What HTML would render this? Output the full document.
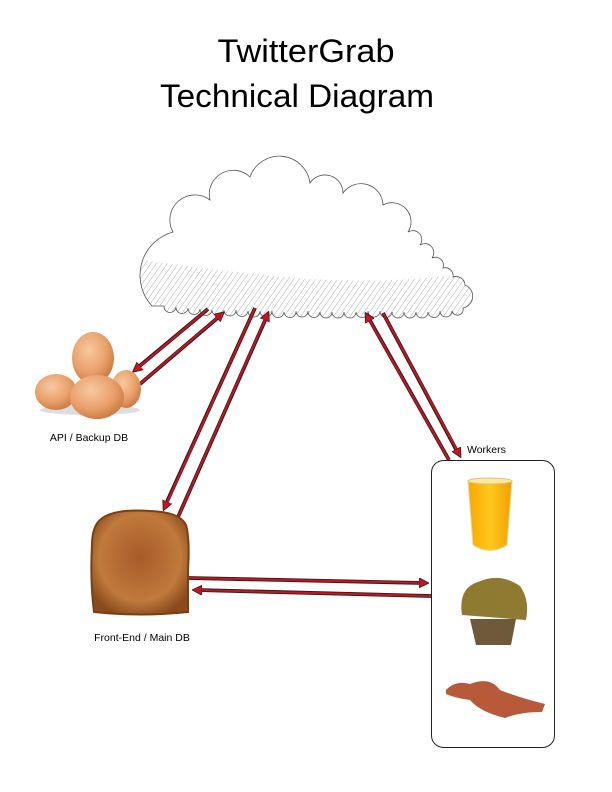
<!DOCTYPE html>
<html><head><meta charset="utf-8"><style>
html,body{margin:0;padding:0;background:#fff;}
svg{display:block;font-family:"Liberation Sans",sans-serif;}
</style></head><body>
<svg width="612" height="792" viewBox="0 0 612 792" xmlns="http://www.w3.org/2000/svg">
<defs>
<pattern id="hatch" width="4.5" height="4.5" patternUnits="userSpaceOnUse" patternTransform="rotate(35)">
<line x1="0" y1="0" x2="0" y2="4.5" stroke="#9a9a9a" stroke-width="0.8"/>
</pattern>
<clipPath id="cc"><path id="cp" d="M152,306 A45,45 0 0 1 173,232 A25,25 0 0 1 210,200 A24,24 0 0 1 250,177 A31,31 0 0 1 310,183 A18,18 0 0 1 343,193 A22,22 0 0 1 383,205 A19,19 0 0 1 408,232 A9,9 0 0 1 420,245 A9,9 0 0 1 432,258 A8,8 0 0 1 443,268 A8,8 0 0 1 453,277 A9,9 0 0 1 465,285 A12,12 0 0 1 463,308 A5,5 0 0 1 452,311 A5,5 0 0 1 440,311 A5,5 0 0 1 428,312 A5,5 0 0 1 416,312 A5,5 0 0 1 404,312 A5,5 0 0 1 392,312 A5,5 0 0 1 380,311 A5,5 0 0 1 368,311 A5,5 0 0 1 356,312 A5,5 0 0 1 344,312 A5,5 0 0 1 332,312 A5,5 0 0 1 320,312 A5,5 0 0 1 308,311 A5,5 0 0 1 296,311 A5,5 0 0 1 284,312 A5,5 0 0 1 272,311 A5,5 0 0 1 260,311 A5,5 0 0 1 248,311 A5,5 0 0 1 236,310 A5,5 0 0 1 224,310 A5,5 0 0 1 212,310 A5,5 0 0 1 200,309 A5,5 0 0 1 188,308 A5,5 0 0 1 176,307 A5,5 0 0 1 164,306 Z"/></clipPath>
<marker id="ah" viewBox="0 0 10 10" refX="8" refY="5" markerWidth="5" markerHeight="5" orient="auto" markerUnits="strokeWidth">
<path d="M0,0 L10,5 L0,10 Z" fill="#d0101e" stroke="#222" stroke-width="0.8"/>
</marker>
<radialGradient id="egg" cx="0.4" cy="0.35" r="0.7"><stop offset="0" stop-color="#f7c9a0"/><stop offset="0.6" stop-color="#e9a06a"/><stop offset="1" stop-color="#c9763f"/></radialGradient>
<radialGradient id="toast" cx="0.5" cy="0.45" r="0.6"><stop offset="0" stop-color="#a85a28"/><stop offset="0.7" stop-color="#c07a3c"/><stop offset="1" stop-color="#8a4a1c"/></radialGradient>
<linearGradient id="oj" x1="0" x2="1"><stop offset="0" stop-color="#f6a800"/><stop offset="0.5" stop-color="#ffc81e"/><stop offset="1" stop-color="#f0a000"/></linearGradient>
</defs>

<text x="306" y="62" text-anchor="middle" font-size="32" textLength="177" lengthAdjust="spacingAndGlyphs">TwitterGrab</text>
<text x="297" y="107" text-anchor="middle" font-size="32" textLength="274" lengthAdjust="spacingAndGlyphs">Technical Diagram</text>

<!-- cloud -->
<g clip-path="url(#cc)"><path d="M130,258 Q250,276 330,280 Q400,283 480,272 L480,330 L130,330 Z" fill="url(#hatch)"/></g>
<use href="#cp" fill="none" stroke="#555" stroke-width="0.8"/>

<!-- arrows -->
<g stroke="#222" stroke-width="3.8" fill="none">
<line x1="208" y1="309" x2="136" y2="369"/><line x1="140" y1="384" x2="221" y2="315"/><line x1="255" y1="308" x2="165" y2="506"/><line x1="178" y1="517" x2="267" y2="316"/><line x1="449" y1="460" x2="368" y2="317"/><line x1="383" y1="313" x2="458" y2="453"/><line x1="188" y1="578" x2="424" y2="583"/><line x1="431" y1="596" x2="197" y2="590"/>
</g>
<g stroke="#d0101e" stroke-width="2" fill="none">
<line x1="208" y1="309" x2="134" y2="371" marker-end="url(#ah)"/>
<line x1="140" y1="384" x2="223" y2="313" marker-end="url(#ah)"/>
<line x1="255" y1="308" x2="164" y2="509" marker-end="url(#ah)"/>
<line x1="178" y1="517" x2="268" y2="313" marker-end="url(#ah)"/>
<line x1="449" y1="460" x2="366" y2="314" marker-end="url(#ah)"/>
<line x1="383" y1="313" x2="460" y2="456" marker-end="url(#ah)"/>
<line x1="188" y1="578" x2="427" y2="583" marker-end="url(#ah)"/>
<line x1="431" y1="596" x2="194" y2="590" marker-end="url(#ah)"/>
</g>

<!-- eggs -->
<ellipse cx="90" cy="410" rx="50" ry="5" fill="#ddd"/>
<ellipse cx="93" cy="358" rx="21" ry="26" fill="url(#egg)"/>
<ellipse cx="126" cy="389" rx="15" ry="19" fill="url(#egg)"/>
<ellipse cx="56" cy="392" rx="21" ry="18" fill="url(#egg)"/>
<ellipse cx="97" cy="397" rx="27" ry="22" fill="url(#egg)"/>
<text x="89" y="441" text-anchor="middle" font-size="10.5">API / Backup DB</text>

<!-- toast -->
<path d="M98,522 Q110,508 150,511 Q180,512 186,525 Q190,540 188,570 L188,612 Q140,617 94,612 Q90,580 92,545 Q92,530 98,522 Z" fill="url(#toast)" stroke="#7a3f15" stroke-width="2"/>
<text x="142" y="641" text-anchor="middle" font-size="10.5">Front-End / Main DB</text>

<!-- workers -->
<text x="467" y="453" font-size="10.5">Workers</text>
<rect x="431.5" y="460.5" width="123" height="287" rx="12" fill="none" stroke="#222" stroke-width="1"/>
<path d="M468,481 L512,481 L507,545 Q490,556 473,545 Z" fill="url(#oj)" stroke="#e8d8a0" stroke-width="1"/>
<ellipse cx="490" cy="481" rx="22" ry="3" fill="#ffe9a0" stroke="#e0c070"/>
<path d="M462,615 Q458,588 478,582 Q500,572 520,586 Q530,600 526,620 Z" fill="#8e7a30"/>
<path d="M470,619 L516,619 L511,645 L476,645 Z" fill="#6e5a3a"/>
<path d="M446,690 Q455,680 470,684 Q490,676 500,690 Q520,698 545,704 L542,712 Q520,712 505,718 Q480,712 470,700 Q455,698 446,694 Z" fill="#b85a3a"/>
</svg>
</body></html>
